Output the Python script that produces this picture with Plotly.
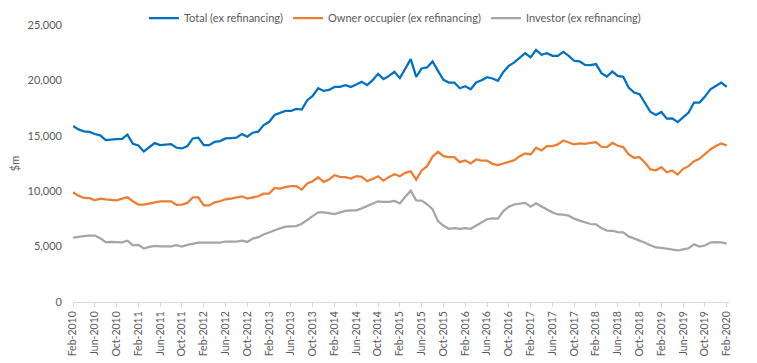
import plotly.graph_objects as go

month_names = ["Jan", "Feb", "Mar", "Apr", "May", "Jun", "Jul", "Aug", "Sep", "Oct", "Nov", "Dec"]
months = []
for k in range(121):
    m = (1 + k) % 12
    y = 2010 + (1 + k) // 12
    months.append(f"{month_names[m]}-{y}")

total = [15880, 15580, 15400, 15350, 15160, 15040, 14610, 14670, 14700, 14720,
         15100, 14280, 14130, 13590, 14000, 14340, 14160, 14180, 14250, 13920,
         13860, 14070, 14760, 14830, 14160, 14160, 14460, 14520, 14760, 14800,
         14830, 15160, 14920, 15280, 15370, 15970, 16240, 16880, 17030, 17240,
         17240, 17420, 17360, 18210, 18600, 19290, 19050, 19140, 19410, 19410,
         19570, 19410, 19630, 19870, 19570, 20020, 20590, 20110, 20410, 20770,
         20200, 21080, 21920, 20320, 21080, 21170, 21710, 20860, 20050, 19810,
         19810, 19290, 19470, 19200, 19810, 20020, 20290, 20170, 19960, 20770,
         21310, 21620, 22070, 22460, 22070, 22760, 22310, 22460, 22220, 22220,
         22580, 22220, 21770, 21710, 21400, 21380, 21470, 20650, 20350, 20800,
         20410, 20320, 19360, 18900, 18750, 17910, 17150, 16880, 17150, 16550,
         16580, 16240, 16640, 17090, 18000, 18000, 18540, 19200, 19500, 19810,
         19410]

owner = [9900, 9600, 9390, 9380, 9180, 9330, 9270, 9200, 9180, 9330,
         9450, 9090, 8790, 8790, 8900, 9030, 9090, 9090, 9090, 8760,
         8790, 8940, 9450, 9450, 8720, 8720, 8990, 9090, 9270, 9330,
         9450, 9540, 9330, 9450, 9540, 9780, 9780, 10300, 10240, 10360,
         10450, 10450, 10140, 10690, 10900, 11260, 10840, 11050, 11440, 11290,
         11260, 11140, 11350, 11290, 10900, 11110, 11350, 10960, 11290, 11530,
         11350, 11660, 11800, 11050, 11870, 12260, 13110, 13560, 13160, 13070,
         13070, 12620, 12770, 12500, 12860, 12770, 12770, 12470, 12350, 12500,
         12620, 12800, 13160, 13410, 13320, 13920, 13680, 14070, 14070, 14220,
         14580, 14430, 14220, 14310, 14280, 14370, 14430, 14010, 13980, 14370,
         14100, 13980, 13320, 13020, 13070, 12560, 11960, 11890, 12170, 11710,
         11870, 11500, 12020, 12260, 12710, 12920, 13320, 13770, 14070, 14310,
         14130]

investor = [5820, 5900, 5950, 5980, 6000, 5750, 5400, 5430, 5420, 5380,
            5530, 5120, 5160, 4830, 4980, 5070, 5020, 5010, 5020, 5120,
            5010, 5160, 5280, 5350, 5370, 5370, 5370, 5370, 5460, 5460,
            5460, 5530, 5420, 5720, 5850, 6100, 6300, 6500, 6650, 6800,
            6820, 6850, 7070, 7400, 7800, 8090, 8090, 8000, 7940, 8090,
            8220, 8270, 8270, 8450, 8650, 8850, 9090, 9030, 9030, 9120,
            8900, 9500, 10050, 9180, 9150, 8820, 8380, 7300, 6880, 6610,
            6670, 6610, 6670, 6610, 6910, 7220, 7470, 7550, 7520, 8200,
            8600, 8800, 8880, 8950, 8600, 8900, 8620, 8330, 8090, 7900,
            7880, 7790, 7520, 7340, 7200, 7040, 7000, 6670, 6450, 6430,
            6300, 6280, 5920, 5750, 5550, 5350, 5120, 4920, 4880, 4800,
            4720, 4650, 4750, 4850, 5200, 5010, 5100, 5370, 5400, 5380,
            5270]

tick_labels = months[::4]
y_ticks = [0, 5000, 10000, 15000, 20000, 25000]
y_tick_text = ["0", "5,000", "10,000", "15,000", "20,000", "25,000"]

series = [
    ("Total (ex refinancing)", total, "#0070C0"),
    ("Owner occupier (ex refinancing)", owner, "#ED7D31"),
    ("Investor (ex refinancing)", investor, "#A5A5A5"),
]

x_idx = list(range(len(months)))

fig = go.Figure()
for name, vals, color in series:
    fig.add_trace(go.Scatter(
        x=x_idx, y=vals, mode="lines", name=name,
        line=dict(color=color, width=2.25),
        text=months, hovertemplate="%{text}: %{y:,}<extra>" + name + "</extra>",
    ))

# the page body adds an 8px offset, so the figure is sized to the visible area
W, H = 749, 355
font_family = "Lato, 'Open Sans', sans-serif"
fig.update_layout(
    width=W, height=H,
    margin=dict(l=65, r=27, t=17, b=61, autoexpand=False),
    paper_bgcolor="white", plot_bgcolor="white",
    font=dict(family=font_family, size=11, color="#595959"),
    showlegend=True,
    legend=dict(orientation="h", x=0.49, xanchor="center",
                yref="container", y=1 - 10 / H, yanchor="middle",
                font=dict(size=11, color="#595959"), bgcolor="rgba(0,0,0,0)",
                itemwidth=30, tracegroupgap=0),
)
fig.update_xaxes(
    range=[0, 120.6], automargin=False,
    tickmode="array", tickvals=x_idx[::4], ticktext=tick_labels,
    tickangle=-90, ticks="outside", ticklen=4, tickcolor="#D9D9D9",
    showline=True, linecolor="#D9D9D9", linewidth=1,
    showgrid=False, zeroline=False,
    tickfont=dict(size=10.5, color="#595959"),
)
fig.update_yaxes(
    range=[0, 25000], automargin=False,
    tickmode="array", tickvals=y_ticks, ticktext=y_tick_text,
    showgrid=False, zeroline=False, showline=False, ticks="",
    ticklabelstandoff=10,
    tickfont=dict(size=11, color="#595959"),
    title=dict(text="$m", standoff=8, font=dict(size=11, color="#595959")),
)

fig.write_html("out.html")
